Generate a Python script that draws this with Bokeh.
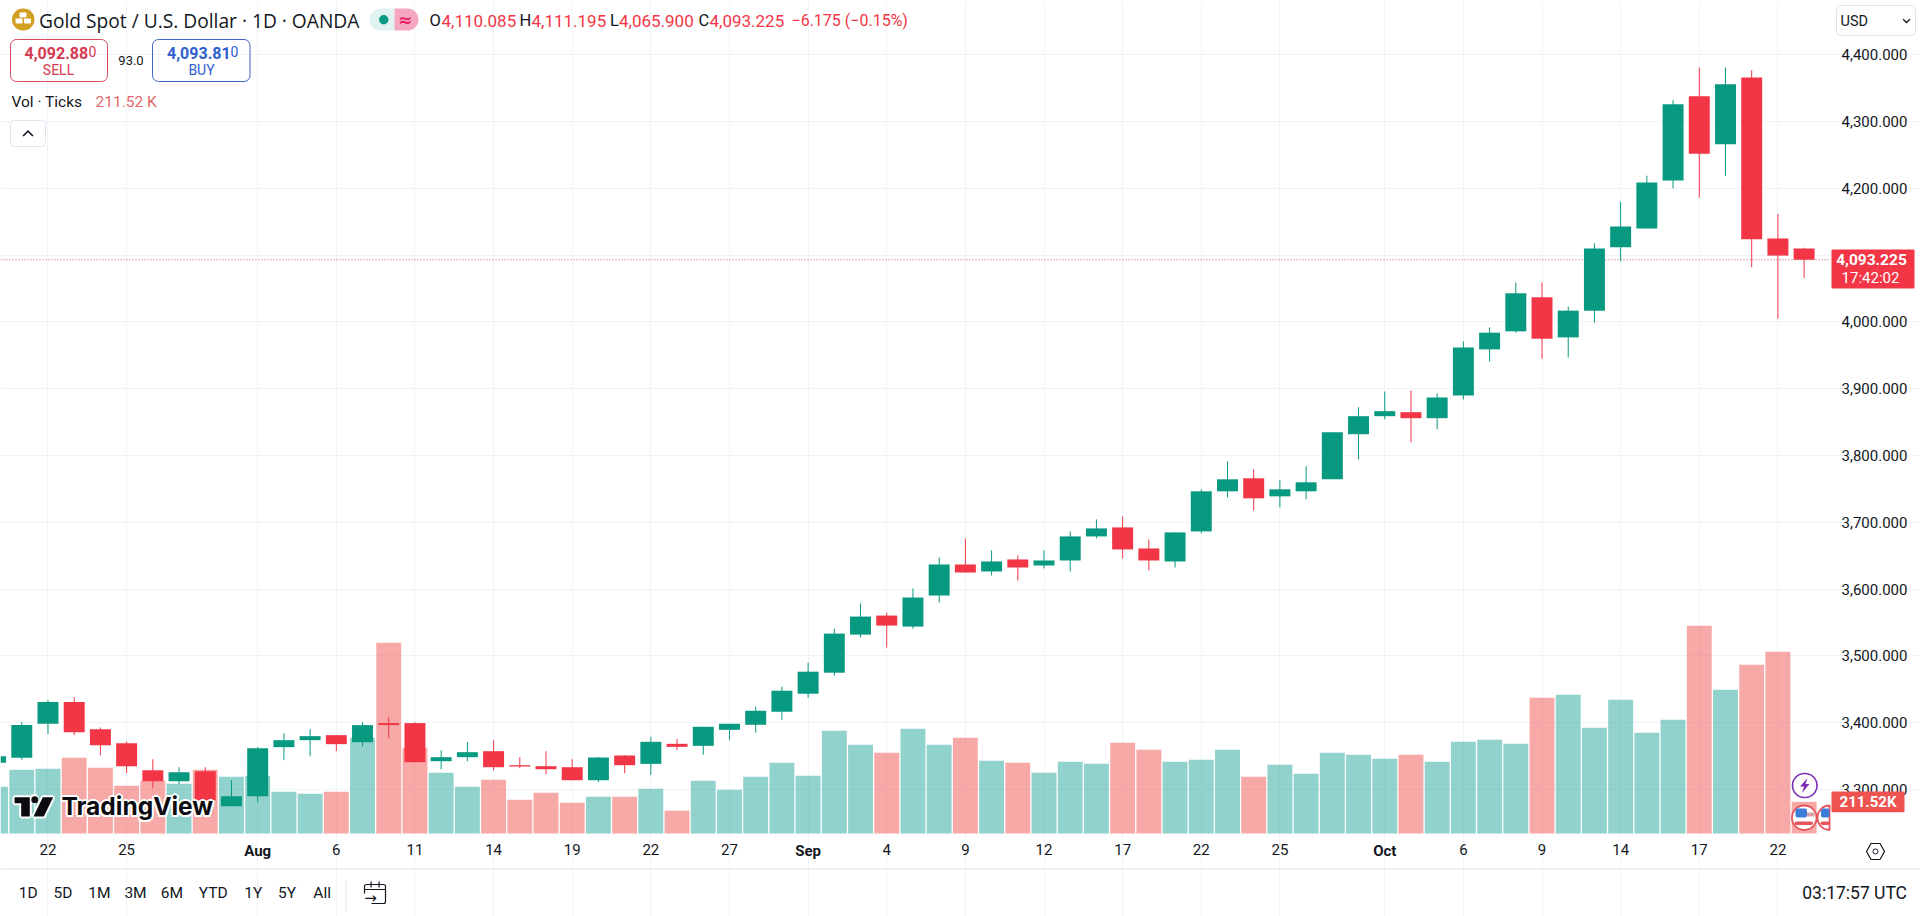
from bokeh.plotting import figure
from bokeh.embed import file_html
from bokeh.resources import INLINE
from bokeh.models import (Range1d, FixedTicker, Label, BoxAnnotation,
                          PolyAnnotation, ColumnDataSource)

# ---------- data ----------
index = list(range(-2, 68))
opens = [3340,3347.5,3398.5,3431,3390.5,3369.5,3329,3312.5,3327.5,3275,3290,3363.5,3374,3381.5,3371,3399.5,3399.5,3342.5,3348.5,3357.5,3336.5,3335,3333.5,3314,3351,3338.5,3368.5,3365.5,3389.5,3397,3416.5,3443.5,3475,3532,3560.5,3544,3590.5,3637,3626.5,3644.5,3635.5,3643,3679,3692.5,3661,3641.5,3686.5,3746.5,3766,3739,3746.5,3764.5,3832,3859,3865,3856,3890,3959,3986,4037,3977,4017,4112,4140,4212,4338,4266,4366,4125,4110.085]
highs = [3352,3401,3434,3438.5,3393,3372,3345.5,3333.5,3333.5,3314,3363.5,3384.5,3390.5,3381.5,3401,3408.5,3401,3359,3371,3374,3348.5,3357.5,3345.5,3348.5,3351.5,3379,3376,3394,3398.5,3424,3454,3490,3541,3578.5,3565,3601,3647.5,3676,3658,3650.5,3658,3686.5,3704.5,3709,3674.5,3685,3749.5,3791.5,3779.5,3763,3784,3835,3872.5,3896,3897.5,3893,3971,3992,4059,4059,4023,4118,4180,4219,4332,4381,4381,4377,4162,4111.195]
lows = [3338,3344.5,3383,3381.5,3351.5,3324.5,3302,3308,3282,3275,3281,3344,3350,3357.5,3365,3377,3341,3330.5,3342.5,3329,3332,3323,3314,3311,3324.5,3322,3359.5,3352,3374.5,3385,3404.5,3437.5,3470.5,3527.5,3512.5,3541,3580,3625,3620.5,3613,3631,3626.5,3676,3646,3628,3632.5,3683.5,3737.5,3718,3722.5,3734.5,3764.5,3794.5,3854.5,3820,3839.5,3884,3941,3984,3945,3947,3999,4091,4140,4200,4186,4219,4082,4005,4065.9]
closes = [3350,3396.5,3431,3386,3366.5,3335,3312.5,3326,3284,3290,3362,3374,3380,3368,3396.5,3396.5,3341,3348.5,3356,3333.5,3334.5,3330.5,3314,3348,3336.5,3371.5,3364,3394,3398.5,3418,3448,3476.5,3533.5,3559,3545.5,3587.5,3637,3625,3641.5,3632.5,3643,3679,3691,3659.5,3643,3685,3746.5,3764.5,3736,3749.5,3760,3835,3859,3866.5,3856,3887,3962,3984,4043,3975,4017,4110,4143,4209,4326,4252,4356,4124,4099.4,4093.225]
volumes_k = [312,425,432,505,439,318,352,332,425,378,385,278,265,278,639,1273,572,405,312,358,225,272,205,245,245,298,152,352,292,378,472,385,686,592,539,699,592,639,485,472,405,479,465,605,559,479,492,559,378,459,398,539,525,499,525,479,612,625,599,906,926,706,892,672,759,1386,959,1126,1213,211.52]
price_ticks = [3300,3400,3500,3600,3700,3800,3900,4000,4100,4200,4300,4400]
time_ticks = [0,3,8,11,14,17,20,23,26,29,32,35,38,41,44,47,51,54,57,60,63,66]
time_labels = ["22","25","Aug","6","11","14","19","22","27","Sep","4","9","12","17","22","25","Oct","6","9","14","17","22"]
last_price = 4093.225

UP, DOWN = "#089981", "#F23645"
VUP, VDOWN = "#26a69a", "#ef5350"
INK = "#131722"
GRID = "#f0f3fa"
LINE = "#e0e3eb"
FONT = "Roboto"

W, H = 1920, 916
X0, X1 = -1.812, 71.44
PANE_RIGHT, PANE_BOTTOM = 67.97, 3234.3

p = figure(width=W, height=H, output_backend="svg", toolbar_location=None,
           x_range=Range1d(X0, X1), y_range=Range1d(3110, 4481.3),
           y_axis_location="right", min_border=0,
           outline_line_color=None, background_fill_color="white", border_fill_color="white")
p.extra_y_ranges = {"vol": Range1d(-554, 5560)}

# ---------- axes ----------
xa = p.xaxis[0]
xa.ticker = FixedTicker(ticks=time_ticks)
month = {"Aug", "Sep", "Oct"}
xa.major_label_overrides = {t: ("" if l in month else l) for t, l in zip(time_ticks, time_labels)}
xa.fixed_location = PANE_BOTTOM
ya = p.yaxis[0]
ya.ticker = FixedTicker(ticks=price_ticks)
ya.major_label_overrides = {t: f"{t:,}.000" for t in price_ticks}
ya.fixed_location = PANE_RIGHT
for a in (xa, ya):
    a.axis_line_color = None
    a.major_tick_line_color = None
    a.minor_tick_line_color = None
    a.major_label_text_font = FONT
    a.major_label_text_font_size = "15px"
    a.major_label_text_color = INK
xa.major_label_standoff = 5
ya.major_label_standoff = 6
p.xgrid.grid_line_color = GRID
p.ygrid.grid_line_color = GRID
p.xgrid.bounds = (PANE_BOTTOM, 4481.3)
p.ygrid.bounds = (X0, PANE_RIGHT)

# ---------- series ----------
colors = [UP if c >= o else DOWN for o, c in zip(opens, closes)]
vcolors = [VUP if c >= o else VDOWN for o, c in zip(opens, closes)]
src = ColumnDataSource(dict(x=index, o=opens, h=highs, l=lows, c=closes, v=volumes_k,
                            color=colors, vcolor=vcolors,
                            top=[max(a, b) for a, b in zip(opens, closes)],
                            bot=[min(a, b) for a, b in zip(opens, closes)]))
p.vbar(x="x", width=0.95, top="v", bottom=0, source=src, y_range_name="vol",
       fill_color="vcolor", fill_alpha=0.5, line_color=None)
p.line([X0, PANE_RIGHT], [last_price, last_price], line_color="#b5606a", line_width=1, line_dash="1 2")
p.segment(x0="x", x1="x", y0="l", y1="h", source=src, line_color="color", line_width=1)
p.vbar(x="x", width=0.8, top="top", bottom="bot", source=src, fill_color="color", line_color=None)

# ---------- page furniture, given in page pixels ----------
def sx(x): return x
def sy(y): return H - y

def text(t, x, y, size=14, color=INK, align="left", style="normal", font=FONT):
    p.add_layout(Label(x=sx(x), y=sy(y), x_units="screen", y_units="screen", text=t,
                       text_font=font, text_font_size=f"{size}px", text_color=color,
                       text_align=align, text_baseline="middle", text_font_style=style))

def box(l, t, r, b, fill=None, line=None, width=1, radius=0):
    p.add_layout(BoxAnnotation(left=sx(l), right=sx(r), top=sy(t), bottom=sy(b),
                               left_units="screen", right_units="screen",
                               top_units="screen", bottom_units="screen",
                               fill_color=fill, fill_alpha=1 if fill else 0,
                               line_color=line, line_alpha=1 if line else 0, line_width=width,
                               border_radius=radius))

def poly(pts, fill=None, line=None, width=1):
    p.add_layout(PolyAnnotation(xs=[sx(a) for a, _ in pts], ys=[sy(b) for _, b in pts],
                                xs_units="screen", ys_units="screen",
                                fill_color=fill, fill_alpha=1 if fill else 0,
                                line_color=line, line_alpha=1 if line else 0, line_width=width))

# bold month labels on the time axis
for t, l in zip(time_ticks, time_labels):
    if l in month:
        p.add_layout(Label(x=t, y=sy(850), y_units="screen", text=l, text_font=FONT,
                           text_font_size="15px", text_font_style="bold", text_color=INK,
                           text_align="center", text_baseline="middle"))

# header
box(11.5, 8, 34, 30, fill="#d4a024", radius=11)
box(19, 12, 26, 17, fill="white", radius=1)
box(15, 18, 22, 23, fill="white", radius=1)
box(23.5, 18, 30.5, 23, fill="white", radius=1)
text("Gold Spot / U.S. Dollar · 1D · OANDA", 38.5, 20, size=19.2, font="Open Sans")
box(369, 8, 394, 30, fill="#e1f3f0", radius=(11, 0, 0, 11))
box(394, 8, 418, 30, fill="#f5a6c1", radius=(0, 11, 11, 0))
box(378.5, 14.5, 388, 24, fill=UP, radius=5)
text("≈", 404.5, 19, size=17, color="#e91e63", align="center", style="bold", font="DejaVu Sans")
for lab, lx, val, vx in [("O", 429, "4,110.085", 441), ("H", 519, "4,111.195", 531),
                         ("L", 609.5, "4,065.900", 618.5), ("C", 698, "4,093.225", 709)]:
    text(lab, lx, 20, size=16.5)
    text(val, vx, 20, size=17, color=DOWN)
text("−6.175 (−0.15%)", 791, 20, size=16, color=DOWN)

box(10, 39, 107, 81, line="#d9485f", radius=6)
box(152, 39, 249.5, 81, line="#3f66c4", radius=6)
text("4,092.88", 24, 52, size=16, color="#d63a50", style="bold")
text("0", 88, 51, size=14, color="#d63a50")
text("SELL", 58, 69, size=14, color="#d63a50", align="center")
text("93.0", 130.5, 60, size=13, align="center")
text("4,093.81", 166.5, 52, size=16, color="#2f5fd0", style="bold")
text("0", 230, 51, size=14, color="#2f5fd0")
text("BUY", 201, 69, size=14, color="#2f5fd0", align="center")
text("Vol · Ticks", 11, 101.5, size=15.5)
text("211.52 K", 95, 101.5, size=15.5, color="#e0686a")
box(10, 120, 45, 146, line=LINE, radius=4, fill="white")
poly([(22, 135), (27.5, 129.5), (33, 135), (31.8, 136), (27.5, 131.8), (23.2, 136)], fill=INK)
box(1836, 5, 1915, 35, line=LINE, radius=4, fill="white")
text("USD", 1840, 21, size=14.5)
poly([(1902, 19), (1906, 23), (1910, 19), (1909, 18.2), (1906, 21), (1903, 18.2)], fill=INK)

# logo
logo_t = [(14, 796.7), (29.3, 796.7), (29.3, 816), (20.7, 816), (20.7, 802.7), (14, 802.7)]
logo_s = [(42.3, 796.7), (52.7, 796.7), (43.3, 816), (33, 816)]
poly(logo_t, fill="white", line="white", width=4)
poly(logo_s, fill="white", line="white", width=4)
box(28.5, 793.5, 38.5, 803.5, fill="white", radius=5)
for dx, dy in [(-2, 0), (2, 0), (0, -2), (0, 2), (-1.5, -1.5), (1.5, 1.5), (-1.5, 1.5), (1.5, -1.5)]:
    text("TradingView", 61 + dx, 805.5 + dy, size=24.5, color="white", style="bold", font="Inter")
poly(logo_t, fill="#0b0b0f")
poly(logo_s, fill="#0b0b0f")
box(30.8, 795.8, 37.8, 802.8, fill="#0b0b0f", radius=4)
text("TradingView", 61, 805.5, size=24.5, color="#0b0b0f", style="bold", font="Inter")

# event marks on the last bar
box(1792, 773, 1816.5, 797, fill="white", line="#7b2fb5", width=1.6, radius=12)
poly([(1807, 777.5), (1799.5, 786), (1803.5, 786), (1801.5, 792.5), (1809, 783.5), (1805, 783.5)], fill="#7b2fb5")
box(1791.5, 805, 1816, 829.5, fill="white", line="#e8535a", width=1.8, radius=12)
box(1795, 808, 1806.5, 817, fill="#3b7dd8", radius=2)
box(1806.5, 812, 1814, 816, fill="#d9a0a4")
box(1794, 821, 1812.5, 824.5, fill="#e8535a", radius=2)
box(1817, 805, 1829, 829.5, fill="white", line="#e8535a", width=1.8, radius=(12, 0, 0, 12))
box(1820.5, 808, 1829, 817, fill="#3b7dd8", radius=2)
box(1820, 821, 1829, 824.5, fill="#e8535a", radius=2)

# value tags on the price scale
box(1831, 249, 1914, 288, fill="#F23645", radius=1)
text("4,093.225", 1871, 259, size=15.5, color="white", align="center", style="bold")
text("17:42:02", 1870, 277, size=15, color="white", align="center")
box(1831, 791, 1904, 811.7, fill="#ef5350", radius=1)
text("211.52K", 1867.5, 801, size=15, color="white", align="center", style="bold")

# settings glyph, divider, bottom bar
poly([(1866, 851), (1870.5, 843), (1879.5, 843), (1884, 851), (1879.5, 859), (1870.5, 859)], line=INK, width=1.2)
box(1872.5, 848.5, 1877.5, 853.5, line=INK, radius=3)
box(0, 868, 1920, 869, fill=LINE)
for lab, cx in zip(["1D", "5D", "1M", "3M", "6M", "YTD", "1Y", "5Y", "All"],
                   [27.8, 62.4, 98.8, 135, 171.4, 212.7, 252.7, 286.5, 321.6]):
    text(lab, cx, 892.7, size=15.5, align="center")
box(345, 880, 346, 910, fill=LINE)
box(364, 884, 385, 903, line=INK, width=1.2, radius=2)
box(362, 893, 371, 905, fill="white")
box(364, 888.5, 385, 889.5, fill=INK)
box(370, 881, 371.2, 887, fill=INK)
box(378, 881, 379.2, 887, fill=INK)
text("→", 370, 897, size=15, align="center", font="DejaVu Sans")
text("03:17:57 UTC", 1906.5, 892.7, size=17.5, align="right")

open("out.html", "w").write(file_html(p, INLINE))
